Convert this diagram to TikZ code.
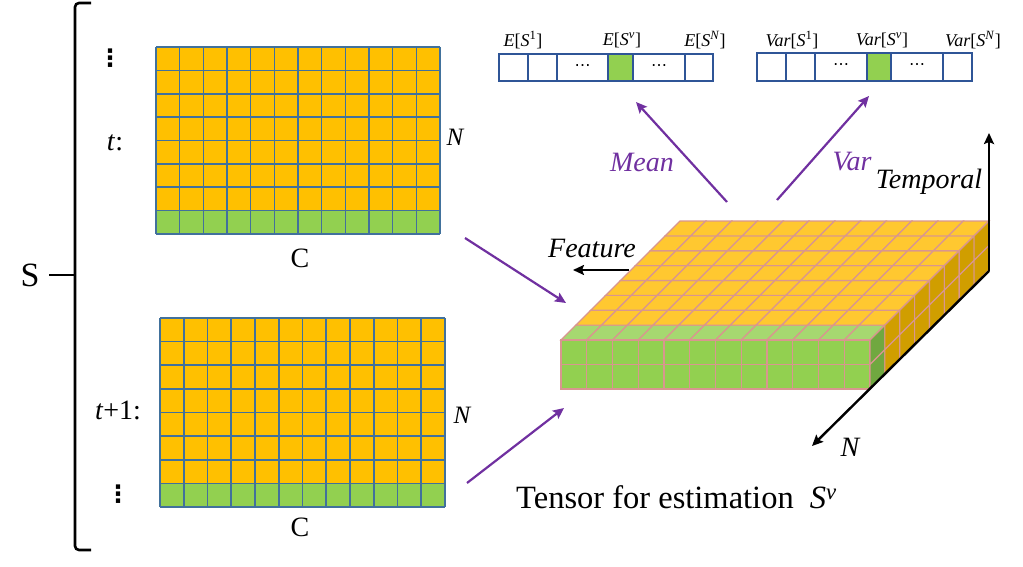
\documentclass[tikz,border=0pt]{standalone}
\usepackage{fontspec}
\setmainfont{Liberation Serif}
\newfontfamily\djv{DejaVu Sans}
\usetikzlibrary{arrows.meta}
\definecolor{gor}{HTML}{FFC000}
\definecolor{ggr}{HTML}{92D050}
\definecolor{gbl}{HTML}{41719C}
\definecolor{ttop}{HTML}{FFC830}
\definecolor{tgrl}{HTML}{A6D870}
\definecolor{tside}{HTML}{D09E00}
\definecolor{tsideg}{HTML}{70A840}
\definecolor{tline}{HTML}{D9968F}
\definecolor{purp}{HTML}{7030A0}
\definecolor{barbl}{HTML}{2F5597}
\tikzset{
  gline/.style={draw=gbl, line width=1.6pt},
  tcell/.style={draw=tline, line width=1.1pt},
  parrow/.style={draw=purp, line width=2.2pt, -{Stealth[length=11pt,width=10pt,inset=2pt]}},
  axisarrow/.style={draw=black, line width=2.4pt, -{Stealth[length=11pt,width=10pt,inset=2pt]}},
  barline/.style={draw=barbl, line width=1.5pt},
  lab/.style={inner sep=0pt, font=\fontsize{28}{30}\selectfont},
  ilab/.style={inner sep=0pt, font=\fontsize{28}{30}\selectfont\itshape},
  blab/.style={inner sep=0pt, font=\fontsize{18}{20}\selectfont},
  dots/.style={inner sep=0pt, font=\djv\fontsize{16}{18}\selectfont},
  vdotsst/.style={inner sep=0pt, font=\djv\bfseries\fontsize{24}{26}\selectfont},
  bracestyle/.style={draw=black, line width=2.6pt}
}
\begin{document}
\begin{tikzpicture}[x=1pt,y=-1pt]
\useasboundingbox (0,0) rectangle (1023,567);

% ---------- left brace ----------
\draw[bracestyle, rounded corners=4pt] (91,3) -- (75,3) -- (75,550) -- (91,550);
\draw[bracestyle] (49,275) -- (75,275);
\node[inner sep=0pt, font=\fontsize{34}{36}\selectfont] (S) at (30,275) {S};
\node[lab] (tl) at (115,143) {\textit{t}:};
\node[lab] (t1l) at (118,410) {\textit{t}+1:};
\node[vdotsst] (vd1) at (110,58) {⋮};
\node[vdotsst] (vd2) at (118,494) {⋮};

% ---------- top grid (t) ----------
\fill[gor] (156,47) rectangle (440,210.6);
\fill[ggr] (156,210.6) rectangle (440,234);
\foreach \i in {0,...,12} \draw[gline] (156+\i*23.667,47) -- ++(0,187);
\foreach \j in {0,...,8} \draw[gline] (156,47+\j*23.375) -- ++(284,0);
\node[ilab, font=\fontsize{25}{27}\selectfont\itshape] (Nt) at (455,137) {N};
\node[lab] (Ct) at (300,258) {C};

% ---------- bottom grid (t+1) ----------
\fill[gor] (160,318) rectangle (445,483.4);
\fill[ggr] (160,483.4) rectangle (445,507);
\foreach \i in {0,...,12} \draw[gline] (160+\i*23.75,318) -- ++(0,189);
\foreach \j in {0,...,8} \draw[gline] (160,318+\j*23.625) -- ++(285,0);
\node[ilab, font=\fontsize{25}{27}\selectfont\itshape] (Nb) at (462,415) {N};
\node[lab] (Cb) at (300,527) {C};

% ---------- tensor ----------
\def\tx{561}\def\ty{340}\def\cw{25.75}\def\ch{24.5}\def\dd{14.875}
% top face
\foreach \c in {0,...,11}{
  \filldraw[tcell, fill=tgrl] (\tx+\c*\cw,\ty) -- ++(\cw,0) -- ++(\dd,-\dd) -- ++(-\cw,0) -- cycle;
  \foreach \r in {1,...,7}
    \filldraw[tcell, fill=ttop] (\tx+\c*\cw+\r*\dd,\ty-\r*\dd) -- ++(\cw,0) -- ++(\dd,-\dd) -- ++(-\cw,0) -- cycle;
}
% front face
\foreach \c in {0,...,11}
  \foreach \k in {0,1}
    \filldraw[tcell, fill=ggr] (\tx+\c*\cw,\ty+\k*\ch) rectangle ++(\cw,\ch);
% right side face
\foreach \k in {0,1}{
  \filldraw[tcell, fill=tsideg] (\tx+12*\cw,\ty+\k*\ch) -- ++(\dd,-\dd) -- ++(0,\ch) -- ++(-\dd,\dd) -- cycle;
  \foreach \r in {1,...,7}
    \filldraw[tcell, fill=tside] (\tx+12*\cw+\r*\dd,\ty-\r*\dd+\k*\ch) -- ++(\dd,-\dd) -- ++(0,\ch) -- ++(-\dd,\dd) -- cycle;
}

% axes of tensor
\coordinate (O) at (989,271);
\coordinate (Tend) at (989,133);
\coordinate (Nend) at (812,446);
\draw[axisarrow] (O) -- (Tend);
\draw[axisarrow] (O) -- (Nend);
\coordinate (Fs) at (629,270);
\coordinate (Fe) at (573,270);
\draw[axisarrow, line width=2pt] (Fs) -- (Fe);
\node[ilab] (Temporal) at (929,182) {Temporal};
\node[ilab] (Nax) at (850,447) {N};
\node[ilab] (Feature) at (592,248) {Feature};
\node[inner sep=0pt, anchor=west, font=\fontsize{32.5}{34}\selectfont] (tensorlab) at (516,497) {Tensor for estimation \ \textit{S}\textsuperscript{\textit{v}}};

% ---------- purple arrows ----------
\coordinate (a1s) at (465,238); \coordinate (a1e) at (566,303);
\coordinate (a2s) at (467,483); \coordinate (a2e) at (564,408);
\coordinate (ms) at (727,202); \coordinate (me) at (636,102);
\coordinate (vs) at (777,200); \coordinate (ve) at (869,96);
\draw[parrow] (a1s) -- (a1e);
\draw[parrow] (a2s) -- (a2e);
\draw[parrow] (ms) -- (me);
\draw[parrow] (vs) -- (ve);
\node[ilab, text=purp] (Mean) at (642,162) {Mean};
\node[ilab, text=purp] (Var) at (852,162) {Var};

% ---------- mean bar ----------
\fill[ggr] (608,54) rectangle (633,81);
\draw[barline] (499,54) rectangle (713,81);
\foreach \x in {528,557,608,633,685} \draw[barline] (\x,54) -- (\x,81);
\node[dots] (md1) at (582.5,67.5) {⋯};
\node[dots] (md2) at (659,67.5) {⋯};
\node[blab] (E1) at (523,40) {\textit{E}[\textit{S}\textsuperscript{1}]};
\node[blab] (Ev) at (622,40) {\textit{E}[\textit{S}\textsuperscript{\textit{v}}]};
\node[blab] (EN) at (705,40) {\textit{E}[\textit{S}\textsuperscript{\textit{N}}]};

% ---------- var bar ----------
\fill[ggr] (867,53) rectangle (891,81);
\draw[barline] (757,53) rectangle (972,81);
\foreach \x in {786,815,867,891,943} \draw[barline] (\x,53) -- (\x,81);
\node[dots] (vd1b) at (841,67) {⋯};
\node[dots] (vd2b) at (917,67) {⋯};
\node[blab] (V1) at (792,40) {\textit{Var}[\textit{S}\textsuperscript{1}]};
\node[blab] (Vv) at (882,40) {\textit{Var}[\textit{S}\textsuperscript{\textit{v}}]};
\node[blab] (VN) at (973,40) {\textit{Var}[\textit{S}\textsuperscript{\textit{N}}]};
\end{tikzpicture}
\end{document}
